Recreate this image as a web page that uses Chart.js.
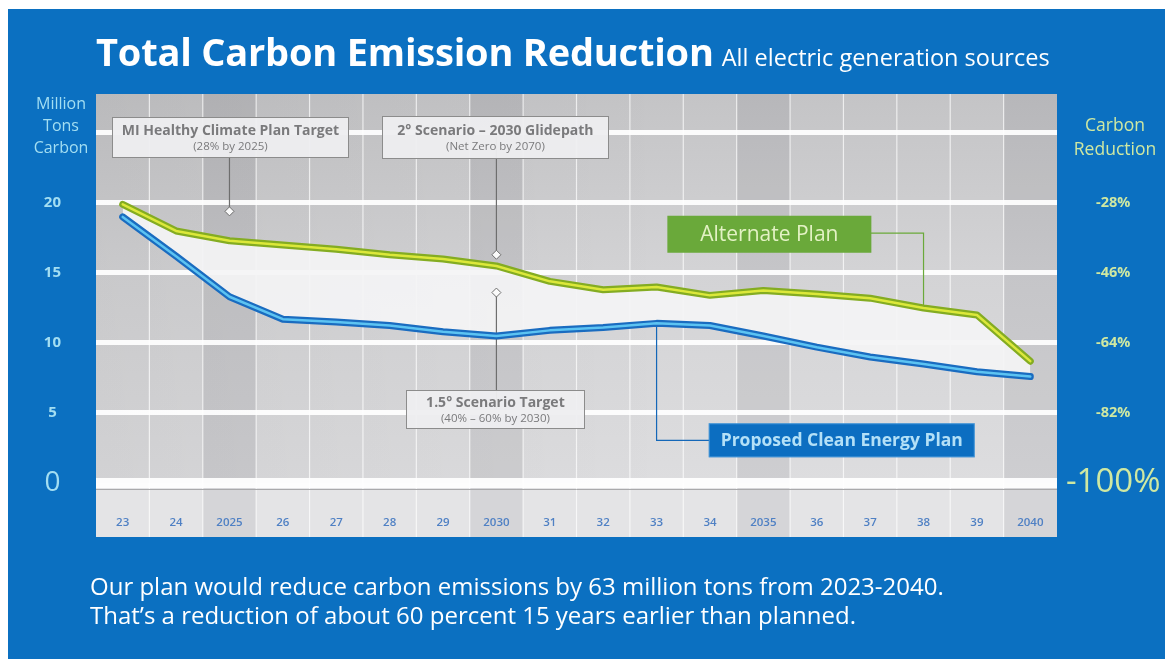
<!DOCTYPE html>
<html>
<head>
<meta charset="utf-8">
<script src="https://cdn.jsdelivr.net/npm/chart.js@4.4.1/dist/chart.umd.min.js"></script>
<style>
  html, body { margin: 0; padding: 0; background: #fff; width: 1165px; height: 659px; overflow: hidden; }
  #panel { position: absolute; left: 8px; top: 9px; width: 1157px; height: 650px; background: #0b70c1; }
  #chart { position: absolute; left: 0; top: 0; }
  .txt { position: absolute; white-space: nowrap; font-family: "Open Sans", Lato, sans-serif; }
  #title { left: 96px; top: 25px; color: #fff; }
  #title b { font-size: 38px; font-weight: 700; letter-spacing: -0.2px; }
  #title span { font-size: 23.5px; margin-left: 8px; }
  #leftTitle { left: 18px; width: 86px; top: 92px; text-align: center; color: #a3def2; font-size: 16px; line-height: 22px; }
  #rightTitle { left: 1068px; width: 94px; top: 112px; text-align: center; color: #cfe8a2; font-size: 17.5px; line-height: 24px; }
  #foot { left: 90px; top: 571px; color: #fff; font-size: 24px; line-height: 29px; }
</style>
</head>
<body>
<div id="panel"></div>
<canvas id="chart" width="1165" height="659"></canvas>
<div class="txt" id="title"><b>Total Carbon Emission Reduction</b><span>All electric generation sources</span></div>
<div class="txt" id="leftTitle">Million<br>Tons<br>Carbon</div>
<div class="txt" id="rightTitle">Carbon<br>Reduction</div>
<div class="txt" id="foot">Our plan would reduce carbon emissions by 63 million tons from 2023-2040.<br>That’s a reduction of about 60 percent 15 years earlier than planned.</div>
<script>
// Years along the bottom (milestone years written in full)
const years = ['23','24','2025','26','27','28','29','2030','31','32','33','34','2035','36','37','38','39','2040'];
// Million tons of carbon per year
const alternatePlan   = [19.9, 18.0, 17.3, 17.0, 16.7, 16.3, 16.0, 15.5, 14.4, 13.8, 14.0, 13.4, 13.75, 13.5, 13.2, 12.5, 12.0, 8.7];
const cleanEnergyPlan = [19.0, 16.2, 13.3, 11.7, 11.5, 11.25, 10.8, 10.5, 10.9, 11.1, 11.4, 11.25, 10.5, 9.7, 9.0, 8.5, 7.95, 7.6];
// Left axis labels (million tons) and the matching reduction labels on the right
const tonLabels = ['0', '5', '10', '15', '20'];
const reductionLabels = ['-100%', '-82%', '-64%', '-46%', '-28%'];
const baselineTons = 27.78;   // top of the axis = 0% reduction
// Target markers (million tons)
const miTarget = 19.4;
const glidepath2030 = 16.3;
const scenario15Target = 13.6;
// Callout texts
const calloutTitles = ['MI Healthy Climate Plan Target', '2° Scenario – 2030 Glidepath', '1.5° Scenario Target'];
const calloutNotes = ['(28% by 2025)', '(Net Zero by 2070)', '(40% – 60% by 2030)'];
const seriesNames = ['Alternate Plan', 'Proposed Clean Energy Plan'];

const FONT = '"Open Sans", Lato, sans-serif';

// Paints the grey plot panel, milestone columns and the year band
const backdrop = {
  id: 'backdrop',
  beforeDraw(chart) {
    const { ctx, chartArea: a, scales: { x } } = chart;
    const band = 54;
    const step = x.getPixelForValue(1) - x.getPixelForValue(0);
    ctx.save();
    const g = ctx.createLinearGradient(0, a.top, 0, a.bottom);
    g.addColorStop(0, '#c4c4c6');
    g.addColorStop(0.45, '#d3d3d5');
    g.addColorStop(1, '#dddddf');
    ctx.fillStyle = g;
    ctx.fillRect(a.left, a.top, a.width, a.height);
    const h = ctx.createLinearGradient(a.left, 0, a.right, 0);
    h.addColorStop(0, 'rgba(0,0,0,0.05)');
    h.addColorStop(0.6, 'rgba(0,0,0,0)');
    ctx.fillStyle = h;
    ctx.fillRect(a.left, a.top, a.width, a.height);
    ctx.fillStyle = '#e4e4e6';
    ctx.fillRect(a.left, a.bottom, a.width, band);
    years.forEach((y, i) => {
      if (y.length === 4) {
        const cx = x.getPixelForValue(i);
        ctx.fillStyle = 'rgba(40,40,50,0.08)';
        ctx.fillRect(cx - step / 2, a.top, step, a.height + band);
      }
    });
    ctx.strokeStyle = 'rgba(255,255,255,0.7)';
    ctx.lineWidth = 1.2;
    for (let i = 1; i < years.length; i++) {
      const px = x.getPixelForValue(i) - step / 2;
      ctx.beginPath();
      ctx.moveTo(px, a.top);
      ctx.lineTo(px, a.bottom + band);
      ctx.stroke();
    }
    ctx.strokeStyle = '#a9a9ab';
    ctx.lineWidth = 1;
    ctx.beginPath();
    ctx.moveTo(a.left, a.bottom + 6.5);
    ctx.lineTo(a.right, a.bottom + 6.5);
    ctx.stroke();
    ctx.restore();
  }
};

function diamond(ctx, x, y) {
  ctx.save();
  ctx.fillStyle = '#fafafa';
  ctx.strokeStyle = '#6e6e6e';
  ctx.lineWidth = 1;
  ctx.beginPath();
  ctx.moveTo(x, y - 4.5); ctx.lineTo(x + 4.5, y); ctx.lineTo(x, y + 4.5); ctx.lineTo(x - 4.5, y); ctx.closePath();
  ctx.fill(); ctx.stroke();
  ctx.restore();
}

// Callout boxes: position given by a category, a pixel nudge and a value on the ton axis
const calloutLayout = [
  { cat: 2, dx: 1, val: 24.7, w: 236, h: 40 },
  { cat: 7, dx: -1, val: 24.7, w: 226, h: 42 },
  { cat: 7, dx: -1, val: 5.3, w: 178, h: 38 }
];

const callouts = {
  id: 'callouts',
  beforeDatasetsDraw(chart) {
    const { ctx, scales: { x, y } } = chart;
    ctx.save();
    ctx.lineWidth = 1.2;
    // grey leaders
    ctx.strokeStyle = '#6e6e6e';
    const l0 = calloutLayout[0], l1 = calloutLayout[1], l2 = calloutLayout[2];
    const x0 = x.getPixelForValue(l0.cat), x1 = x.getPixelForValue(l1.cat);
    ctx.beginPath();
    ctx.moveTo(x0, y.getPixelForValue(l0.val)); ctx.lineTo(x0, y.getPixelForValue(miTarget));
    ctx.moveTo(x1, y.getPixelForValue(l1.val)); ctx.lineTo(x1, y.getPixelForValue(glidepath2030));
    ctx.moveTo(x1, y.getPixelForValue(l2.val)); ctx.lineTo(x1, y.getPixelForValue(scenario15Target));
    ctx.stroke();
    // series leaders
    const altY = y.getPixelForValue(17.85);
    const altEndX = x.getPixelForValue(15);
    ctx.strokeStyle = '#6aa93a';
    ctx.beginPath();
    ctx.moveTo(x.getPixelForValue(12), altY); ctx.lineTo(altEndX, altY);
    ctx.lineTo(altEndX, y.getPixelForValue(alternatePlan[15]));
    ctx.stroke();
    const cleanY = y.getPixelForValue(3.05);
    const cleanX = x.getPixelForValue(10);
    ctx.strokeStyle = '#1467b8';
    ctx.beginPath();
    ctx.moveTo(x.getPixelForValue(13), cleanY); ctx.lineTo(cleanX, cleanY);
    ctx.lineTo(cleanX, y.getPixelForValue(cleanEnergyPlan[10]));
    ctx.stroke();
    ctx.restore();
  },
  afterDatasetsDraw(chart) {
    const { ctx, scales: { x, y } } = chart;
    ctx.save();
    ctx.textAlign = 'center';
    ctx.textBaseline = 'middle';
    calloutLayout.forEach((c, i) => {
      const cx = x.getPixelForValue(c.cat) + c.dx;
      const cy = y.getPixelForValue(c.val);
      const left = Math.round(cx - c.w / 2) + 0.5, top = Math.round(cy - c.h / 2) + 0.5;
      ctx.fillStyle = 'rgba(238,238,240,0.95)';
      ctx.fillRect(left, top, c.w, c.h);
      ctx.strokeStyle = '#8c8c8c';
      ctx.lineWidth = 1;
      ctx.strokeRect(left, top, c.w, c.h);
      ctx.fillStyle = '#7a7a7c';
      ctx.font = `700 14px ${FONT}`;
      ctx.fillText(calloutTitles[i], cx, top + c.h / 2 - 6.5);
      ctx.font = `400 11.5px ${FONT}`;
      ctx.fillText(calloutNotes[i], cx, top + c.h / 2 + 9.5);
    });
    diamond(ctx, x.getPixelForValue(calloutLayout[0].cat), y.getPixelForValue(miTarget));
    diamond(ctx, x.getPixelForValue(calloutLayout[1].cat), y.getPixelForValue(glidepath2030));
    diamond(ctx, x.getPixelForValue(calloutLayout[2].cat), y.getPixelForValue(scenario15Target));

    // series name tags
    const altCx = x.getPixelForValue(12) + 6, altCy = y.getPixelForValue(17.8);
    ctx.fillStyle = '#6aa93a';
    ctx.fillRect(altCx - 102, altCy - 18, 204, 37);
    ctx.fillStyle = '#e3f2c4';
    ctx.font = `400 21px ${FONT}`;
    ctx.fillText(seriesNames[0], altCx, altCy + 1);

    const clCx = x.getPixelForValue(13) + 25, clCy = y.getPixelForValue(3.05);
    ctx.fillStyle = '#0c6ec1';
    ctx.fillRect(clCx - 133, clCy - 17, 266, 34);
    ctx.strokeStyle = 'rgba(120,190,240,0.5)';
    ctx.lineWidth = 1;
    ctx.strokeRect(clCx - 133 + 0.5, clCy - 17 + 0.5, 265, 33);
    ctx.fillStyle = '#b3e0f7';
    ctx.font = `700 17.5px ${FONT}`;
    ctx.fillText(seriesNames[1], clCx, clCy + 1);
    ctx.restore();
  }
};

new Chart(document.getElementById('chart'), {
  type: 'line',
  data: {
    labels: years,
    datasets: [
      { label: seriesNames[0], data: alternatePlan, borderColor: '#84ac22', borderWidth: 7,
        fill: '+1', backgroundColor: 'rgba(244,244,245,0.92)', order: 2 },
      { label: seriesNames[1], data: cleanEnergyPlan, borderColor: '#1a6cc0', borderWidth: 7, order: 2 },
      { label: seriesNames[0], data: alternatePlan, borderColor: '#dce83a', borderWidth: 2.5, order: 1 },
      { label: seriesNames[1], data: cleanEnergyPlan, borderColor: '#5cc3f2', borderWidth: 2.5, order: 1 }
    ]
  },
  options: {
    responsive: false,
    animation: false,
    events: [],
    layout: { padding: { left: 0, right: 0, top: 94, bottom: 122 } },
    elements: {
      point: { radius: 0 },
      line: { tension: 0, borderJoinStyle: 'round', borderCapStyle: 'round' }
    },
    plugins: {
      legend: { display: false },
      tooltip: { enabled: false },
      filler: { drawTime: 'beforeDatasetsDraw' }
    },
    scales: {
      x: {
        type: 'category',
        offset: true,
        grid: { display: false },
        border: { display: false },
        afterFit(s) { s.height = 54; },
        ticks: { color: '#4f80c4', font: { family: FONT, size: 11.5, weight: '600' }, padding: 25, maxRotation: 0, autoSkip: false }
      },
      y: {
        position: 'left',
        min: 0, max: baselineTons,
        afterFit(s) { s.width = 96; },
        border: { display: false },
        grid: {
          color: 'rgba(255,255,255,0.92)',
          lineWidth: c => (c.tick && c.tick.value === 0 ? 10 : 5),
          drawTicks: false
        },
        ticks: {
          stepSize: 5, includeBounds: false, padding: 35, crossAlign: 'center',
          color: '#a3def2',
          font: c => (c.tick && c.tick.value === 0 ? { family: FONT, size: 28, weight: '400' } : { family: FONT, size: 15, weight: '700' }),
          callback: v => tonLabels[v / 5] ?? ''
        }
      },
      y2: {
        position: 'right',
        min: 0, max: baselineTons,
        afterFit(s) { s.width = 108; },
        border: { display: false },
        grid: { display: false, drawTicks: false },
        ticks: {
          stepSize: 5, includeBounds: false, padding: 9, crossAlign: 'center',
          color: '#cfe8a2',
          font: c => (c.tick && c.tick.value === 0 ? { family: FONT, size: 33, weight: '400' } : { family: FONT, size: 14.5, weight: '700' }),
          callback: v => reductionLabels[v / 5] ?? ''
        }
      }
    }
  },
  plugins: [backdrop, callouts]
});
</script>
</body>
</html>
